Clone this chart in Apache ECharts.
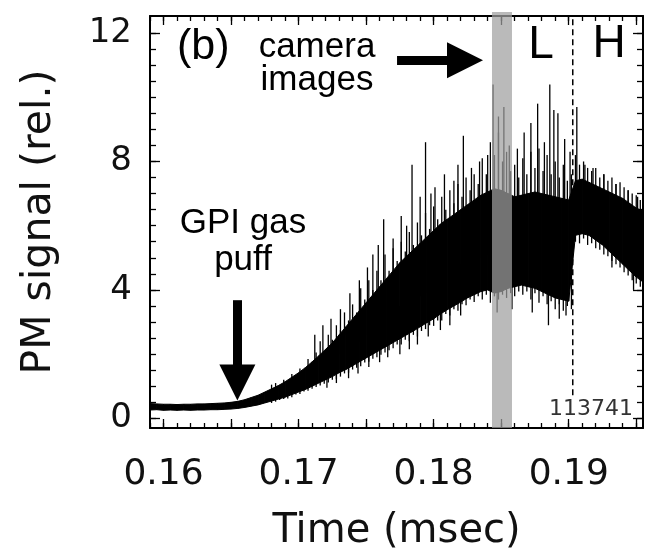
<!DOCTYPE html>
<html><head><meta charset="utf-8">
<script src="https://cdn.jsdelivr.net/npm/echarts@6/dist/echarts.min.js"></script>
<style>html,body{margin:0;padding:0;background:#fff}#c{width:655px;height:557px}</style>
</head><body><div id="c"></div>
<script>
// ---- data ----
const time = [0.1590,0.1595,0.1600,0.1605,0.1610,0.1615,0.1620,0.1625,0.1630,0.1635,
  0.1640,0.1645,0.1650,0.1655,0.1660,0.1665,0.1670,0.1675,0.1680,0.1685,
  0.1690,0.1695,0.1700,0.1705,0.1710,0.1715,0.1720,0.1725,0.1730,0.1735,
  0.1740,0.1745,0.1750,0.1755,0.1760,0.1765,0.1770,0.1775,0.1780,0.1785,
  0.1790,0.1795,0.1800,0.1805,0.1810,0.1815,0.1820,0.1825,0.1830,0.1835,
  0.1840,0.1845,0.1850,0.1855,0.1860,0.1865,0.1870,0.1875,0.1880,0.1885,
  0.1890,0.1895,0.1900,0.1905,0.1910,0.1915,0.1920,0.1925,0.1930,0.1935,
  0.1940,0.1945,0.1950,0.1955];
const lower = [0.26,0.27,0.25,0.26,0.25,0.26,0.25,0.26,0.26,0.27,
  0.27,0.28,0.29,0.31,0.34,0.38,0.42,0.48,0.54,0.60,
  0.66,0.74,0.82,0.90,1.00,1.10,1.20,1.30,1.42,1.52,
  1.64,1.76,1.88,2.00,2.12,2.24,2.36,2.48,2.60,2.72,
  2.85,2.98,3.10,3.25,3.38,3.50,3.62,3.75,3.85,3.95,
  4.00,3.90,3.95,4.05,4.10,4.15,4.10,4.05,3.95,3.85,
  3.75,3.70,3.65,5.70,5.75,5.70,5.55,5.40,5.20,5.00,
  4.80,4.60,4.40,4.25];
const upper = [0.46,0.45,0.44,0.44,0.43,0.44,0.44,0.45,0.45,0.46,
  0.47,0.48,0.50,0.53,0.58,0.65,0.72,0.82,0.92,1.02,
  1.14,1.28,1.42,1.58,1.76,1.95,2.15,2.35,2.60,2.85,
  3.10,3.35,3.60,3.85,4.10,4.35,4.60,4.85,5.05,5.25,
  5.45,5.65,5.85,6.05,6.20,6.35,6.50,6.65,6.80,6.95,
  7.05,7.15,7.10,7.00,6.90,6.95,7.00,7.05,7.00,6.95,
  6.90,6.85,6.80,7.40,7.45,7.35,7.25,7.15,7.05,6.95,
  6.85,6.70,6.55,6.45];
// dense noise strokes: [time, bottom, top]
const noise = [
  [0.1680,0.48,1.05],[0.1683,0.52,1.10],[0.1686,0.57,1.02],[0.1689,0.60,1.20],[0.1692,0.62,1.15],
  [0.1695,0.66,1.38],[0.1698,0.74,1.30],[0.1701,0.76,1.55],[0.1704,0.84,1.48],[0.1707,0.86,1.85],
  [0.1710,0.92,1.70],[0.1713,0.98,2.05],[0.1716,1.02,2.40],[0.1719,1.08,2.10],[0.1722,1.12,2.60],
  [0.1725,1.20,2.45],[0.1728,1.22,2.90],[0.1731,1.30,2.75],[0.1734,1.40,3.30],[0.1737,1.42,3.05],
  [0.1740,1.52,3.55],[0.1743,1.58,3.30],[0.1746,1.62,4.05],[0.1749,1.74,3.70],[0.1752,1.76,4.30],
  [0.1755,1.86,4.00],[0.1758,1.90,4.60],[0.1761,1.98,4.30],[0.1764,2.05,5.10],[0.1767,2.12,4.60],
  [0.1770,2.18,5.30],[0.1773,2.30,4.90],[0.1776,2.30,5.50],[0.1779,2.45,5.20],[0.1782,2.40,5.80],
  [0.1785,2.60,5.40],[0.1788,2.55,6.10],[0.1791,2.72,5.70],[0.1794,2.78,6.40],[0.1797,2.90,5.90],
  [0.1800,2.88,6.60],[0.1803,3.05,6.20],[0.1806,3.05,6.90],[0.1809,3.25,6.50],[0.1812,3.20,7.10],
  [0.1815,3.40,6.70],[0.1818,3.35,7.30],[0.1821,3.55,6.90],[0.1824,3.52,7.50],[0.1827,3.70,7.10],
  [0.1830,3.62,7.60],[0.1833,3.80,7.30],[0.1836,3.70,8.10],[0.1839,3.85,7.60],[0.1842,3.60,8.60],
  [0.1845,3.80,8.20],[0.1848,3.70,8.90],[0.1851,3.85,8.00],[0.1854,3.75,8.30],[0.1857,3.90,7.70],
  [0.1860,3.80,7.90],[0.1863,3.95,7.50],[0.1866,3.85,8.10],[0.1869,3.95,7.60],[0.1872,3.70,8.30],
  [0.1875,3.90,7.80],[0.1878,3.60,8.40],[0.1881,3.80,7.70],[0.1884,3.55,8.20],[0.1887,3.65,7.60],
  [0.1890,3.40,8.00],[0.1893,3.55,7.50],[0.1896,3.35,7.90],[0.1899,3.50,7.40],[0.1902,3.40,7.60],
  [0.1905,5.50,8.20],[0.1908,5.45,7.90],[0.1911,5.60,8.00],[0.1914,5.40,7.80],[0.1917,5.45,7.70],
  [0.1920,5.30,7.80],[0.1923,5.25,7.50],[0.1926,5.10,7.60],[0.1929,5.05,7.40],[0.1932,4.90,7.50],
  [0.1935,4.80,7.30],[0.1938,4.70,7.35],[0.1941,4.55,7.20],[0.1944,4.45,7.10],[0.1947,4.30,7.00],
  [0.1950,4.20,6.95],[0.1953,4.10,6.80]
];
// isolated spikes: [time, from, to]
const spikes = [
  [0.1712,1.5,2.6],[0.1718,1.6,2.9],[0.1724,1.8,3.1],[0.1731,2.0,3.4],[0.1738,2.2,3.9],
  [0.1745,2.4,4.3],[0.1751,2.6,4.7],[0.1755,2.7,5.1],[0.1759,2.8,5.4],[0.1763,3.0,6.2],
  [0.1770,3.2,5.6],[0.1776,3.4,6.3],[0.1780,3.5,6.0],[0.1784,3.6,7.9],[0.1790,3.8,6.9],
  [0.1794,3.9,8.6],[0.1798,4.0,7.0],[0.1801,4.1,7.2],[0.1808,4.3,7.6],[0.1815,4.5,7.4],
  [0.1818,4.6,7.9],[0.1822,4.7,8.8],[0.1828,4.9,7.8],[0.1834,5.0,8.0],[0.1840,5.1,8.2],
  [0.1844,5.2,10.4],[0.1848,5.2,9.4],[0.1852,5.2,9.7],[0.1856,5.2,8.5],[0.1862,5.2,8.4],
  [0.1867,5.3,8.9],[0.1872,5.3,9.2],[0.1877,5.3,9.8],[0.1882,5.2,8.6],[0.1886,5.2,10.4],
  [0.1889,5.1,9.6],[0.1892,5.1,9.5],[0.1897,5.0,8.7],[0.1901,5.0,8.3],[0.1906,6.4,9.7],
  [0.1912,6.5,7.9],[0.1918,6.4,7.8],[0.1926,6.2,7.6],[0.1935,6.0,7.3],[0.1944,5.8,7.1],
  [0.1951,5.6,6.9],
  [0.1721,0.95,1.6],[0.1728,1.1,1.8],[0.1737,1.25,2.0],[0.1744,1.4,2.2],[0.1752,1.6,2.6],
  [0.1760,1.75,2.8],[0.1766,1.9,3.0],[0.1775,2.0,3.5],[0.1782,2.15,3.6],[0.1788,2.3,3.8],
  [0.1796,2.55,4.0],[0.1805,2.75,4.2],[0.1812,2.9,4.5],[0.1820,3.2,4.8],[0.1847,3.3,5.2],
  [0.1858,3.4,5.2],[0.1873,3.3,5.3],[0.1885,2.9,5.2],[0.1893,3.1,5.1],[0.1898,3.2,5.0],
  [0.1932,4.7,6.0],[0.1948,4.0,5.6]
];
const cameraWindow = [0.18432, 0.18580];
const lhTransition = [[0.1903, 0.72], [0.1903, 12.53]];
const xTickLabels = [0.16, 0.17, 0.18, 0.19];
const xMajorTicks = [0.16, 0.165, 0.17, 0.175, 0.18, 0.185, 0.19, 0.195];
const yTickLabels = [0, 4, 8, 12];
const XMIN = 0.1590, XMAX = 0.1955, YMIN = -0.3, YMAX = 12.53;

const xMinorTicks = []; for (let k = 159; k <= 195; k++) xMinorTicks.push(k / 1000);
const yMinorTicks = []; for (let k = 0; k <= 24; k++) yMinorTicks.push(k / 2);

function mkAxis(kind, pos, grid, ticks, len, main, labels) {
  const min = kind === 'x' ? XMIN : YMIN, max = kind === 'x' ? XMAX : YMAX;
  return {
    type: 'value', gridIndex: grid, position: pos, min: min, max: max, scale: true,
    axisLine: {show: main, onZero: false, lineStyle: {color: '#000', width: 2}},
    axisTick: {show: true, inside: true, length: len, customValues: ticks, lineStyle: {color: '#000', width: 1.3}},
    axisLabel: labels ? {show: true, customValues: labels,
      formatter: kind === 'x' ? (v => v.toFixed(2)) : (v => String(Math.round(v))),
      margin: kind === 'x' ? 29 : 18, fontFamily: 'DejaVu Sans', fontSize: kind === 'x' ? 36 : 34, color: '#111'} : {show: false},
    splitLine: {show: false}
  };
}

function strokeItem(params, api) {
  const a = api.coord([api.value(0), api.value(1)]);
  const b = api.coord([api.value(0), api.value(2)]);
  return {type: 'line', shape: {x1: a[0], y1: a[1], x2: b[0], y2: b[1]}, style: {stroke: '#000', lineWidth: 1.3}};
}

const chart = echarts.init(document.getElementById('c'), null, {renderer: 'canvas'});
const gridRect = {left: 150, right: 12, top: 16, bottom: 129};
const xA0 = mkAxis('x', 'bottom', 0, xMajorTicks, 9, true, xTickLabels);
xA0.name = 'Time (msec)'; xA0.nameLocation = 'middle'; xA0.nameGap = 84;
xA0.nameTextStyle = {fontFamily: 'DejaVu Sans', fontSize: 40, color: '#111'};
const yA0 = mkAxis('y', 'left', 0, yTickLabels, 10, true, yTickLabels);
yA0.name = 'PM signal (rel.)'; yA0.nameLocation = 'middle'; yA0.nameGap = 90;
yA0.nameTextStyle = {fontFamily: 'DejaVu Sans', fontSize: 41, color: '#111'};

chart.setOption({
  animation: false,
  backgroundColor: '#fff',
  grid: [Object.assign({}, gridRect), Object.assign({}, gridRect)],
  xAxis: [xA0, mkAxis('x', 'top', 0, xMajorTicks, 9, true, null),
          mkAxis('x', 'bottom', 1, xMinorTicks, 5, false, null), mkAxis('x', 'top', 1, xMinorTicks, 5, false, null)],
  yAxis: [yA0, mkAxis('y', 'right', 0, yTickLabels, 10, true, null),
          mkAxis('y', 'left', 1, yMinorTicks, 6, false, null), mkAxis('y', 'right', 1, yMinorTicks, 6, false, null)],
  series: [
    {
      type: 'custom', xAxisIndex: 0, yAxisIndex: 0, clip: true, z: 2,
      data: time.map((t, i) => [t, lower[i], upper[i]]),
      encode: {x: 0, y: [1, 2]},
      renderItem: function (params, api) {
        const i = params.dataIndex;
        if (i >= time.length - 1) return;
        const pts = [api.coord([time[i], lower[i]]), api.coord([time[i + 1], lower[i + 1]]),
                     api.coord([time[i + 1], upper[i + 1]]), api.coord([time[i], upper[i]])];
        return {type: 'polygon', shape: {points: pts}, style: {fill: '#000', stroke: '#000', lineWidth: 1}};
      }
    },
    {type: 'custom', xAxisIndex: 0, yAxisIndex: 0, clip: true, z: 3, data: noise, encode: {x: 0, y: [1, 2]}, renderItem: strokeItem},
    {type: 'custom', xAxisIndex: 0, yAxisIndex: 0, clip: true, z: 3, data: spikes, encode: {x: 0, y: [1, 2]}, renderItem: strokeItem},
    {
      type: 'custom', xAxisIndex: 0, yAxisIndex: 0, clip: false, z: 10,
      data: [cameraWindow], encode: {x: [0, 1]},
      renderItem: function (params, api) {
        const a = api.coord([api.value(0), YMAX]);
        const b = api.coord([api.value(1), YMIN]);
        return {type: 'rect', shape: {x: a[0], y: a[1] - 4, width: b[0] - a[0], height: b[1] - a[1] + 4},
                style: {fill: 'rgba(160,160,160,0.72)'}};
      }
    },
    {
      type: 'line', xAxisIndex: 0, yAxisIndex: 0, z: 4, data: lhTransition, showSymbol: false, symbol: 'none',
      lineStyle: {color: '#000', width: 1.5, type: [6, 4]}
    },
    {
      type: 'line', xAxisIndex: 0, yAxisIndex: 0, z: 12, data: [], symbol: 'none',
      markLine: {
        silent: true, symbol: ['none', 'triangle'], symbolSize: [36, 36],
        label: {show: false},
        lineStyle: {color: '#000', width: 9, type: 'solid'},
        data: [
          [{coord: [0.17729, 11.15]}, {coord: [0.18232, 11.15]}],
          [{coord: [0.16547, 3.68]}, {coord: [0.16547, 1.12]}]
        ]
      }
    }
  ],
  graphic: [
    {type: 'text', x: 177, y: 47, z: 20, style: {text: '(b)', font: '43px "Liberation Sans"', fill: '#000', align: 'left', verticalAlign: 'middle'}},
    {type: 'text', x: 317, y: 64, z: 20, style: {text: 'camera\nimages', font: '35px "Liberation Sans"', lineHeight: 33, fill: '#000', align: 'center', verticalAlign: 'middle'}},
    {type: 'text', x: 541, y: 45, z: 20, style: {text: 'L', font: '46px "Liberation Sans"', fill: '#000', align: 'center', verticalAlign: 'middle'}},
    {type: 'text', x: 609, y: 44, z: 20, style: {text: 'H', font: '46px "Liberation Sans"', fill: '#000', align: 'center', verticalAlign: 'middle'}},
    {type: 'text', x: 243, y: 242, z: 20, style: {text: 'GPI gas\npuff', font: '35px "Liberation Sans"', lineHeight: 37, fill: '#000', align: 'center', verticalAlign: 'middle'}},
    {type: 'text', x: 633, y: 409, z: 20, style: {text: '113741', font: '22px "DejaVu Sans"', fill: '#333', align: 'right', verticalAlign: 'middle'}}
  ]
});
</script></body></html>
